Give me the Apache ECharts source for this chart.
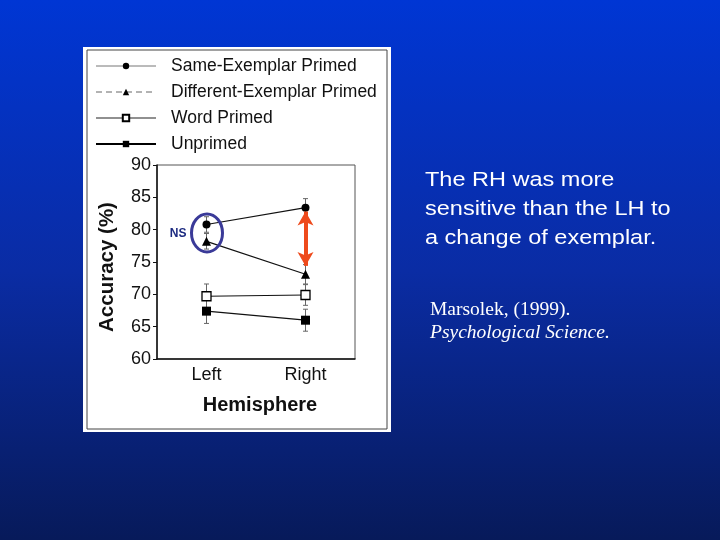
<!DOCTYPE html>
<html><head><meta charset="utf-8">
<script src="https://cdn.jsdelivr.net/npm/echarts@6/dist/echarts.min.js"></script>
<style>html,body{margin:0;padding:0;background:#0a2aa0;overflow:hidden}#c{width:720px;height:540px}</style>
</head><body><div id="c"></div>
<script>
// ---- data ----
const hemispheres = ['Left', 'Right'];
const yMin = 60, yMax = 90, yStep = 5;
const seriesNames = ['Same-Exemplar Primed', 'Different-Exemplar Primed', 'Word Primed', 'Unprimed'];
const sameExemplar = [80.8, 83.4];
const sameExemplarErr = [1.2, 1.4];
const diffExemplar = [78.2, 73.1];
const diffExemplarErr = [1.2, 1.5];
const wordPrimed = [69.7, 69.9];
const wordPrimedErr = [1.9, 1.6];
const unprimed = [67.4, 66.0];
const unprimedErr = [1.9, 1.7];
const arrowRange = [82.8, 74.4];
const nsLabel = 'NS';
const noteLines = ['The RH was more', 'sensitive than the LH to', 'a change of exemplar.'];
const citeLines = ['Marsolek, (1999).', 'Psychological Science.'];

const FONT = '"Liberation Sans", Arial, Helvetica, sans-serif';
const SERIF = '"Liberation Serif", "Times New Roman", serif';

function errData(vals, errs) { return vals.map((v, i) => [i, v, errs[i]]); }
const allErr = [].concat(
  errData(sameExemplar, sameExemplarErr),
  errData(diffExemplar, diffExemplarErr),
  errData(wordPrimed, wordPrimedErr),
  errData(unprimed, unprimedErr)
);

function errRender(params, api) {
  const x = api.value(0), y = api.value(1), e = api.value(2);
  const hi = api.coord([x, y + e]), lo = api.coord([x, y - e]);
  const cap = 2.5;
  const st = { stroke: '#666', lineWidth: 1 };
  return { type: 'group', children: [
    { type: 'line', shape: { x1: hi[0], y1: hi[1], x2: lo[0], y2: lo[1] }, style: st },
    { type: 'line', shape: { x1: hi[0] - cap, y1: hi[1], x2: hi[0] + cap, y2: hi[1] }, style: st },
    { type: 'line', shape: { x1: lo[0] - cap, y1: lo[1], x2: lo[0] + cap, y2: lo[1] }, style: st }
  ]};
}

function nsRender(params, api) {
  const c = api.coord([api.value(0), api.value(1)]);
  return { type: 'group', children: [
    { type: 'ellipse', shape: { cx: c[0] + 0.5, cy: c[1], rx: 15.5, ry: 19 },
      style: { fill: 'none', stroke: '#3a3a98', lineWidth: 3 } },
    { type: 'text', style: { text: nsLabel, x: c[0] - 20, y: c[1] + 1,
      textAlign: 'right', align: 'right', textVerticalAlign: 'middle', verticalAlign: 'middle',
      fill: '#1c2a80', font: 'bold 12px ' + FONT } }
  ]};
}

const nsCenter = (sameExemplar[0] + diffExemplar[0]) / 2;

const textEls = noteLines.map((t, i) => ({
  type: 'text', x: 425, y: 180 + i * 29.3, scaleY: 0.88,
  style: { text: t, x: 0, y: 0, fill: '#ffffff', font: '23.5px ' + FONT,
    textAlign: 'left', align: 'left', textVerticalAlign: 'middle', verticalAlign: 'middle' }
})).concat(citeLines.map((t, i) => ({
  type: 'text', x: 430, y: 310 + i * 23,
  style: { text: t, x: 0, y: 0, fill: '#ffffff', font: (i === 1 ? 'italic ' : '') + '19.5px ' + SERIF,
    textAlign: 'left', align: 'left', textVerticalAlign: 'middle', verticalAlign: 'middle' }
})));

const chart = echarts.init(document.getElementById('c'), null, { renderer: 'canvas' });
chart.setOption({
  animation: false,
  backgroundColor: { type: 'linear', x: 0, y: 0, x2: 0, y2: 1, colorStops: [
    { offset: 0, color: '#0036d4' }, { offset: 0.5, color: '#0a2ca4' }, { offset: 1, color: '#071a5a' } ] },
  graphic: [
    { type: 'rect', z: -10, shape: { x: 83, y: 47, width: 308, height: 385 }, style: { fill: '#ffffff' } },
    { type: 'rect', z: -9, shape: { x: 87, y: 50, width: 300, height: 379 }, style: { fill: 'none', stroke: '#444', lineWidth: 1 } }
  ].concat(textEls),
  legend: {
    orient: 'vertical', left: 95, top: 57, padding: 0, itemWidth: 60, itemHeight: 8, itemGap: 8,
    textStyle: { fontFamily: FONT, fontSize: 17.5, color: '#111', lineHeight: 18, padding: [0, 0, 0, 10] },
    selectedMode: false,
    data: [
      { name: seriesNames[0], lineStyle: { color: '#777', width: 1 } },
      { name: seriesNames[1], lineStyle: { color: '#666', width: 1, type: [6, 4] } },
      { name: seriesNames[2], lineStyle: { color: '#222', width: 1.2 } },
      { name: seriesNames[3], lineStyle: { color: '#000', width: 2 } }
    ]
  },
  grid: { left: 157, right: 365, top: 165, bottom: 181, show: true, borderColor: '#555', borderWidth: 1 },
  xAxis: {
    type: 'category', data: hemispheres, boundaryGap: true,
    axisLine: { lineStyle: { color: '#111', width: 1.5 } }, axisTick: { show: false },
    axisLabel: { fontFamily: FONT, fontSize: 18, color: '#111', margin: 7 },
    name: 'Hemisphere', nameLocation: 'middle', nameGap: 36,
    nameTextStyle: { fontFamily: FONT, fontSize: 20, fontWeight: 'bold', color: '#111', padding: [0, 0, 0, 8] }
  },
  yAxis: {
    type: 'value', min: yMin, max: yMax, interval: yStep,
    axisLine: { show: true, lineStyle: { color: '#111', width: 1.5 } },
    axisTick: { show: true, length: 4, lineStyle: { color: '#111' } },
    splitLine: { show: false },
    axisLabel: { fontFamily: FONT, fontSize: 18, color: '#111', margin: 6 },
    name: 'Accuracy (%)', nameLocation: 'middle', nameGap: 39,
    nameTextStyle: { fontFamily: FONT, fontSize: 20.5, fontWeight: 'bold', color: '#111', padding: [0, 10, 0, 0] }
  },
  series: [
    { type: 'custom', name: 'err', renderItem: errRender, data: allErr, encode: { x: 0, y: 1 }, z: 1, silent: true },
    { type: 'line', name: seriesNames[0], data: sameExemplar, symbol: 'circle', symbolSize: 8, z: 3,
      lineStyle: { color: '#111', width: 1.2 }, itemStyle: { color: '#000' },
      markLine: { silent: true, symbol: ['arrow', 'arrow'], symbolSize: [12, 14], label: { show: false },
        lineStyle: { color: '#ee4a1c', width: 4, type: 'solid' },
        data: [[{ coord: [1, arrowRange[0]] }, { coord: [1, arrowRange[1]] }]] } },
    { type: 'line', name: seriesNames[1], data: diffExemplar, symbol: 'triangle', symbolSize: 9, z: 3,
      lineStyle: { color: '#111', width: 1.2 }, itemStyle: { color: '#000' } },
    { type: 'line', name: seriesNames[2], data: wordPrimed, symbol: 'rect', symbolSize: 9, z: 3,
      lineStyle: { color: '#111', width: 1.2 }, itemStyle: { color: '#fff', borderColor: '#000', borderWidth: 1.3 } },
    { type: 'line', name: seriesNames[3], data: unprimed, symbol: 'rect', symbolSize: 9, z: 3,
      lineStyle: { color: '#111', width: 1.2 }, itemStyle: { color: '#000' } },
    { type: 'custom', name: 'ns', renderItem: nsRender, data: [[0, nsCenter]], encode: { x: 0, y: 1 }, z: 4, silent: true }
  ]
});
</script>
</body></html>
